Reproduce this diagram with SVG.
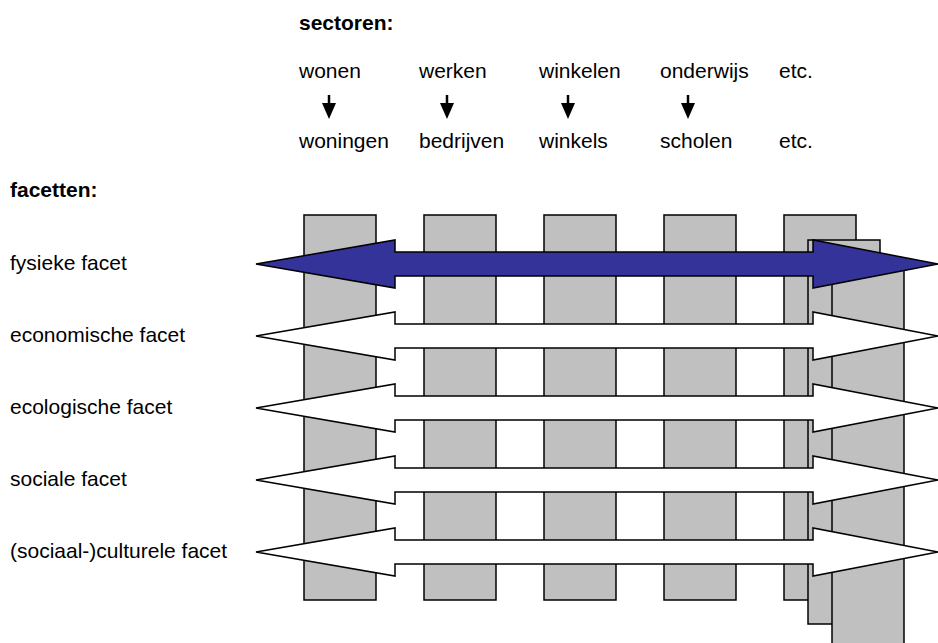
<svg xmlns="http://www.w3.org/2000/svg" width="938" height="643" viewBox="0 0 938 643">
  <style>
    text { font-family: "Liberation Sans", Arial, sans-serif; font-size: 21px; fill: #000; }
    .head { font-weight: bold; }
    .col { fill: #C0C0C0; stroke: #000; stroke-width: 1.5; }
    .facet { fill: #FFFFFF; stroke: #000; stroke-width: 1.5; stroke-linejoin: miter; }
    .facet.active { fill: #333399; }
    .down { stroke: #000; stroke-width: 2.5; }
  </style>
  <defs>
    <!-- double-headed block arrow, centred on y = 0 -->
    <path id="facetArrow" d="M256,0 L395,-24 L395,-12 L813,-12 L813,-24 L938,0 L813,24 L813,12 L395,12 L395,24 Z"/>
    <!-- small downward arrowhead, tip at (0,0) -->
    <path id="downHead" d="M-7,-16 L7,-16 L0,0 Z"/>
  </defs>

  <rect width="938" height="643" fill="#FFFFFF"/>

  <!-- sector headings -->
  <g id="sectors">
    <text class="head" x="299" y="30">sectoren:</text>
    <g id="sector-wonen"><text x="299" y="78">wonen</text><text x="299" y="148">woningen</text></g>
    <g id="sector-werken"><text x="419" y="78">werken</text><text x="419" y="148">bedrijven</text></g>
    <g id="sector-winkelen"><text x="539" y="78">winkelen</text><text x="539" y="148">winkels</text></g>
    <g id="sector-onderwijs"><text x="660" y="78">onderwijs</text><text x="660" y="148">scholen</text></g>
    <g id="sector-etc"><text x="779" y="78">etc.</text><text x="779" y="148">etc.</text></g>
  </g>

  <!-- small arrows from activity to building type -->
  <g id="connectors">
    <line class="down" x1="329" y1="95" x2="329" y2="104"/>
    <use href="#downHead" transform="translate(329,119)"/>
    <line class="down" x1="447" y1="95" x2="447" y2="104"/>
    <use href="#downHead" transform="translate(447,119)"/>
    <line class="down" x1="568" y1="95" x2="568" y2="104"/>
    <use href="#downHead" transform="translate(568,119)"/>
    <line class="down" x1="688" y1="95" x2="688" y2="104"/>
    <use href="#downHead" transform="translate(688,119)"/>
  </g>

  <!-- sector columns -->
  <g id="col-wonen"><rect class="col" x="304" y="215" width="72" height="385"/></g>
  <g id="col-werken"><rect class="col" x="424" y="215" width="72" height="385"/></g>
  <g id="col-winkelen"><rect class="col" x="544" y="215" width="72" height="385"/></g>
  <g id="col-onderwijs"><rect class="col" x="664" y="215" width="72" height="385"/></g>
  <g id="col-etc">
    <rect class="col" x="784" y="215" width="72" height="385"/>
    <rect class="col" x="808" y="240" width="72" height="384"/>
    <rect class="col" x="832" y="265" width="72" height="390"/>
  </g>

  <!-- facets -->
  <text class="head" x="10" y="197">facetten:</text>
  <g id="facet-fysiek">
    <use href="#facetArrow" class="facet active" transform="translate(0,264)"/>
    <text x="10" y="270">fysieke facet</text>
  </g>
  <g id="facet-economisch">
    <use href="#facetArrow" class="facet" transform="translate(0,336)"/>
    <text x="10" y="342">economische facet</text>
  </g>
  <g id="facet-ecologisch">
    <use href="#facetArrow" class="facet" transform="translate(0,408)"/>
    <text x="10" y="414">ecologische facet</text>
  </g>
  <g id="facet-sociaal">
    <use href="#facetArrow" class="facet" transform="translate(0,480)"/>
    <text x="10" y="486">sociale facet</text>
  </g>
  <g id="facet-cultureel">
    <use href="#facetArrow" class="facet" transform="translate(0,552)"/>
    <text x="10" y="558">(sociaal-)culturele facet</text>
  </g>
</svg>
